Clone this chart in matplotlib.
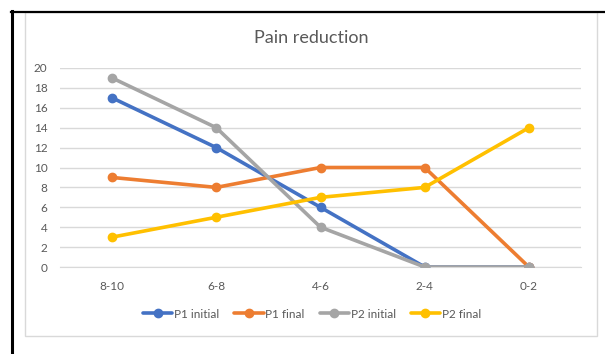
import matplotlib
matplotlib.use("Agg")
import matplotlib.pyplot as plt
from matplotlib.patches import Rectangle
from matplotlib.lines import Line2D

categories = ["8-10", "6-8", "4-6", "2-4", "0-2"]
p1_initial = [17, 12, 6, 0, 0]
p1_final = [9, 8, 10, 10, 0]
p2_initial = [19, 14, 4, 0, 0]
p2_final = [3, 5, 7, 8, 14]
y_ticks = list(range(0, 21, 2))

series = [
    ("P1 initial", p1_initial, "#4472C4"),
    ("P1 final", p1_final, "#ED7D31"),
    ("P2 initial", p2_initial, "#A5A5A5"),
    ("P2 final", p2_final, "#FFC000"),
]

plt.rcParams["font.family"] = ["Lato", "DejaVu Sans"]
W, H = 605, 354
fig = plt.figure(figsize=(W / 100, H / 100), dpi=100)

def fx(px):
    return px / W

def fy(py):
    return 1 - py / H

# outer frame and chart area border
fig.add_artist(Rectangle((fx(25), fy(336)), fx(597) - fx(25), fy(12) - fy(336),
                         transform=fig.transFigure, fill=False,
                         edgecolor="#D9D9D9", linewidth=1.0))
fig.add_artist(Line2D([fx(12), fx(12)], [fy(11), 0], transform=fig.transFigure,
                      color="black", linewidth=2.2))
fig.add_artist(Line2D([fx(11), 1], [fy(11.5), fy(11.5)], transform=fig.transFigure,
                      color="black", linewidth=1.6))

ax = fig.add_axes([fx(60), fy(267), fx(581) - fx(60), fy(68) - fy(267)])
x = list(range(len(categories)))
for name, vals, color in series:
    ax.plot(x, vals, color=color, linewidth=2.6, marker="o", markersize=6,
            label=name, solid_capstyle="round", zorder=3)

ax.set_xlim(-0.5, len(categories) - 0.5)
ax.set_ylim(0, 20)
ax.set_yticks(y_ticks)
ax.set_xticks(x)
ax.set_xticklabels(categories)
ax.grid(axis="y", color="#D9D9D9", linewidth=1.0, zorder=0)
ax.set_axisbelow(True)
for s in ["top", "right", "left"]:
    ax.spines[s].set_visible(False)
ax.spines["bottom"].set_color("#D9D9D9")
ax.tick_params(axis="both", length=0, colors="#595959", labelsize=8.5)
ax.tick_params(axis="y", pad=9)
ax.tick_params(axis="x", pad=10)

fig.text(fx(311), fy(38), "Pain reduction", ha="center", va="center",
         fontsize=13, color="#595959")

leg = fig.legend(loc="center", bbox_to_anchor=(fx(312), fy(314)), ncol=4,
                 frameon=False, fontsize=8.5, handlelength=2.5,
                 handletextpad=0.15, columnspacing=1.25, labelcolor="#595959")

fig.savefig("out.png", dpi=100)
